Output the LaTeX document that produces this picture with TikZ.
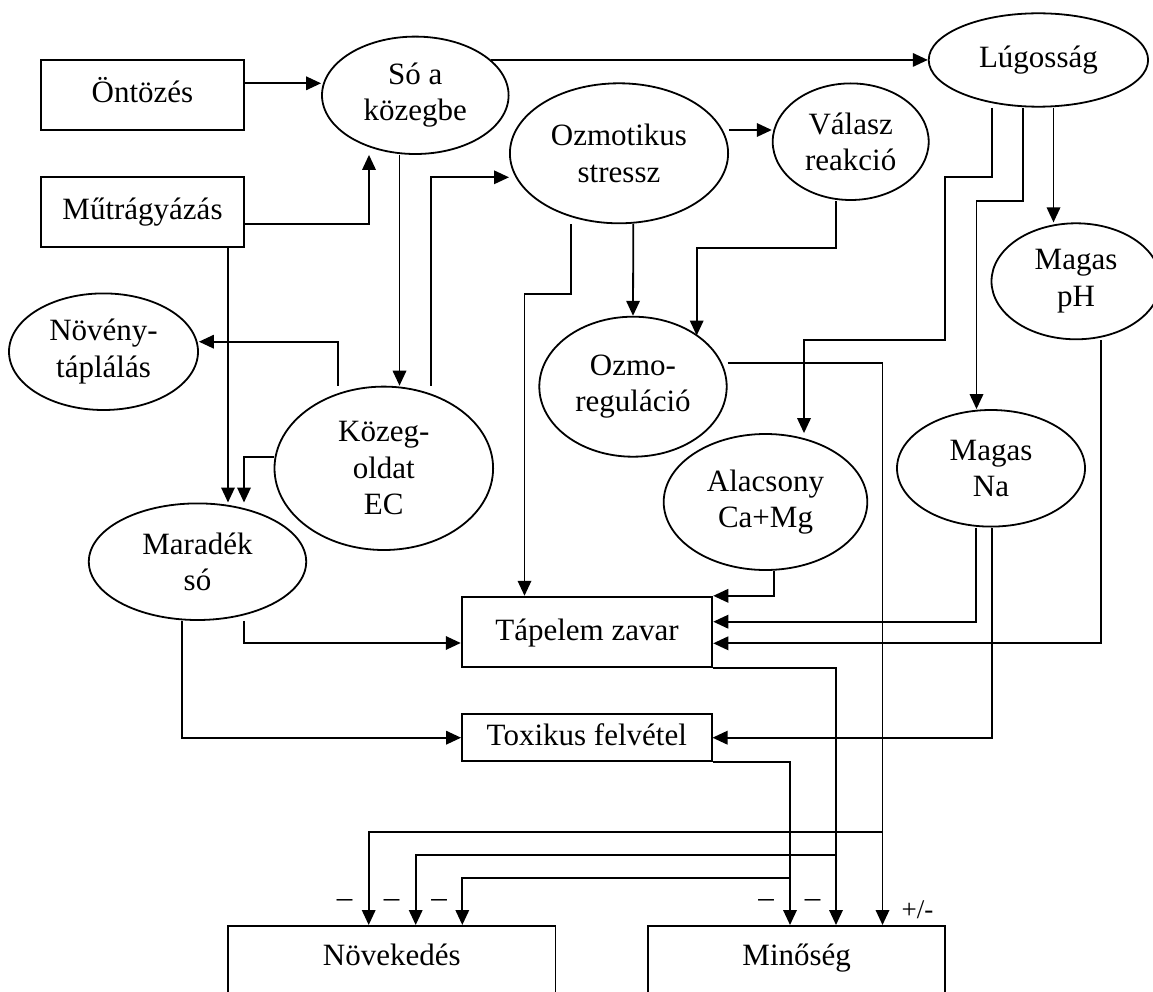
\documentclass[tikz,border=0pt]{standalone}
\usepackage{fontspec}
\setmainfont{Liberation Serif}
\usetikzlibrary{arrows.meta,shapes.geometric}
\begin{document}
\begin{tikzpicture}[x=1pt,y=-1pt,
  every node/.style={font=\fontsize{31}{36.5}\selectfont, inner sep=0pt},
  ell/.style={draw, ellipse, line width=1.8pt, align=center},
  box/.style={draw, rectangle, line width=1.8pt, text height=24pt, text depth=8pt},
  bigbox/.style={draw, rectangle, line width=1.8pt, anchor=north, minimum height=120pt},
  arr/.style={line width=1.8pt, -{Triangle[length=15pt,width=13.5pt]}},
  sign/.style={font=\fontsize{31}{36}\selectfont},
  pmsign/.style={font=\fontsize{27}{30}\selectfont}]
\useasboundingbox (0,0) rectangle (1153,992);
\clip (0,0) rectangle (1153,992);

% boxes
\node[box, minimum width=203.5pt, minimum height=70pt] (ont) at (142.5,95) {Öntözés};
\node[box, minimum width=203.5pt, minimum height=70.6pt] (mut) at (142.5,212) {Műtrágyázás};
\node[box, minimum width=250.7pt, minimum height=70.6pt] (tap) at (587,632) {Tápelem zavar};
\node[box, minimum width=249.6pt, minimum height=46.7pt] (tox) at (586.8,737.7) {Toxikus felvétel};
\node[bigbox, minimum width=327.5pt] (novek) at (391.75,925) {};
\node[anchor=base] (novekt) at (novek.north |- 0,965) {Növekedés};
\node[bigbox, minimum width=296.7pt] (min) at (796.7,925) {};
\node[anchor=base] (mint) at (min.north |- 0,965) {Minőség};

% ellipses
\node[ell, minimum width=186.6pt, minimum height=117.4pt] (so) at (415.3,95.3) {Só a\\közegbe};
\node[ell, minimum width=219.4pt, minimum height=93.4pt] (lug) at (1038.4,60) {Lúgosság};
\node[ell, minimum width=218.2pt, minimum height=140pt] (ozm) at (619,153.3) {Ozmotikus\\stressz};
\node[ell, minimum width=156pt, minimum height=116.6pt] (val) at (850.7,141.7) {Válasz\\reakció};
\node[ell, minimum width=169pt, minimum height=116pt] (mph) at (1076,281.3) {Magas\\pH};
\node[ell, minimum width=189pt, minimum height=116.6pt] (nov) at (103.5,351.7) {Növény-\\táplálás};
\node[ell, minimum width=187.4pt, minimum height=140pt] (ozr) at (633,386.7) {Ozmo-\\reguláció};
\node[ell, minimum width=218.6pt, minimum height=163.4pt] (kozeg) at (383.8,468.3) {Közeg-\\oldat\\EC};
\node[ell, minimum width=217.4pt, minimum height=116.6pt] (mar) at (197.5,561.7) {Maradék\\só};
\node[ell, minimum width=203.6pt, minimum height=136pt] (alac) at (765.5,502) {Alacsony\\Ca+Mg};
\node[ell, minimum width=188pt, minimum height=116.6pt] (mna) at (991,468.3) {Magas\\Na};

% connectors
\draw[arr] (ont.east |- 0,83.3) -- (so.west |- 0,83.3);
\draw[arr] (mut.east |- 0,224) -| (so.south -| 369,0);
\draw[arr] (so.25) -- (so.25 -| lug.west);
\draw[arr] (so.south -| 399.5,0) -- (kozeg.north -| 399.5,0);
\draw[arr] (kozeg.north -| 431,0) |- (ozm.west |- 0,177.3);
\draw[arr] (kozeg.north -| 337.6,0) |- (nov.east |- 0,341.7);
\draw[arr] (mut.south -| 228,0) -- (mar.north -| 228,0);
\draw[arr] (kozeg.west |- 0,456.7) -| (mar.north -| 244,0);
\draw[arr] (mar.south -| 244,0) |- (tap.west |- 0,643);
\draw[arr] (mar.south -| 181.8,0) |- (tox.west);
\draw[arr] (ozm.south -| 571,0) -- ++(0,70) -| (tap.north -| 524.5,0);
\draw[arr] (ozm.east |- 0,130) -- (val.west |- 0,130);
\draw[arr] (ozm.south -| 633.3,0) -- (ozr.north);
\draw[arr] (val.south -| 835.8,0) -- ++(0,47) -| (ozr.38.85 -| 696.7,0);
\draw[arr] (lug.south -| 992,0) |- (945,177) |- (804,340.3) -- (alac.north -| 804,0);
\draw[arr] (lug.south -| 1022.8,0) |- (976.5,201) -- (mna.north -| 976.5,0);
\draw[arr] (lug.south -| 1053.5,0) -- (mph.north -| 1053.5,0);
\draw[arr] (alac.south -| 773.7,0) |- (tap.north east);
\draw[arr] (mna.south -| 976.3,0) |- (tap.east |- 0,621.7);
\draw[arr] (mph.south -| 1100.7,0) |- (tap.east |- 0,643.3);
\draw[arr] (mna.south -| 991.7,0) |- (tox.east);
\draw[arr] (tap.south east) -| (min.north -| 836,0);
\draw[arr] (tox.south east) -| (min.north -| 790,0);
\draw[arr] (ozr.east |- 0,363.3) -| (min.north -| 882.5,0);
\coordinate (j1) at (882.5,831.7);
\coordinate (j2) at (836,855);
\coordinate (j3) at (790,878.3);
\draw[arr] (j1) -| (novek.north -| 368.7,0);
\draw[arr] (j2) -| (novek.north -| 415.7,0);
\draw[arr] (j3) -| (novek.north -| 462.3,0);

% signs
\node[sign] (s1) at (344.6,903) {–};
\node[sign] (s2) at (391.6,903) {–};
\node[sign] (s3) at (439,903) {–};
\node[sign] (s4) at (766,903) {–};
\node[sign] (s5) at (812.7,903) {–};
\node[pmsign] (s6) at (917.5,910) {+/-};
\end{tikzpicture}
\end{document}
